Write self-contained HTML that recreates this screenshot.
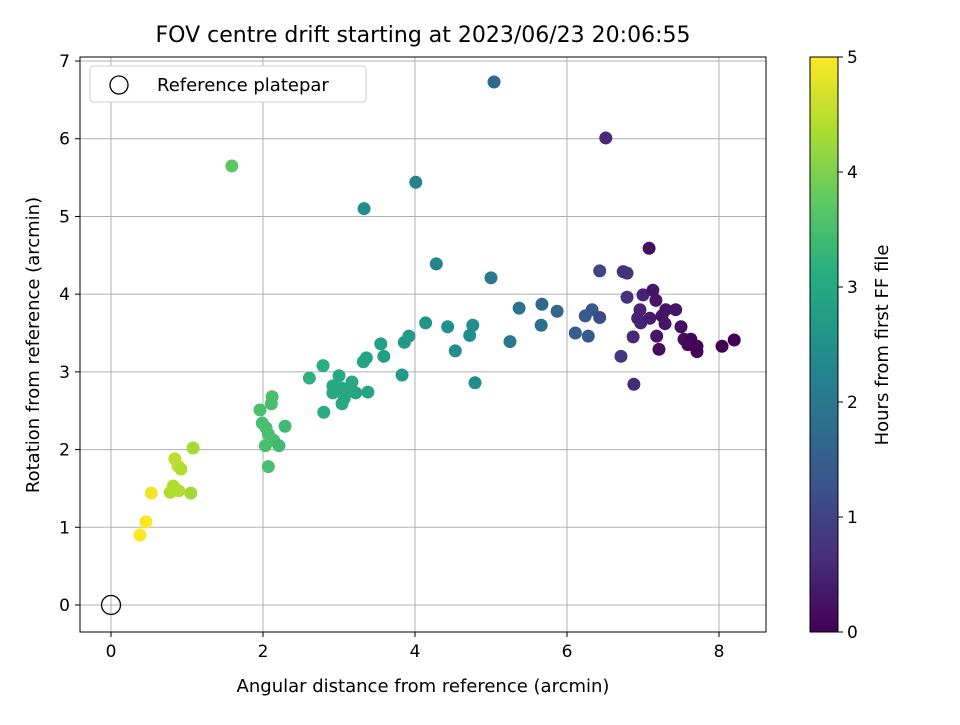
<!DOCTYPE html>
<html><head><meta charset="utf-8"><style>
body{margin:0;background:#fff;font-family:"Liberation Sans","DejaVu Sans",sans-serif}
svg text{font-family:"DejaVu Sans","Liberation Sans",sans-serif}
</style></head><body>
<svg id="chart" width="960" height="720" xmlns="http://www.w3.org/2000/svg">
<defs><linearGradient id="vir" x1="0" y1="1" x2="0" y2="0">
<stop offset="0" stop-color="#440154"/><stop offset="0.125" stop-color="#472d7b"/><stop offset="0.25" stop-color="#3b528b"/><stop offset="0.375" stop-color="#2c728e"/><stop offset="0.5" stop-color="#21918c"/><stop offset="0.625" stop-color="#28ae80"/><stop offset="0.75" stop-color="#5ec962"/><stop offset="0.875" stop-color="#addc30"/><stop offset="1" stop-color="#fde725"/></linearGradient></defs>
<text x="423" y="42" font-size="22" text-anchor="middle">FOV centre drift starting at 2023/06/23 20:06:55</text>
<g id="grid"></g><g id="pts"></g><g id="axes"></g>
<rect x="80" y="57" width="686" height="575" fill="none" stroke="#000" stroke-width="1"/>
<text x="423" y="692" font-size="18" text-anchor="middle">Angular distance from reference (arcmin)</text>
<text transform="translate(39,345) rotate(-90)" font-size="18" text-anchor="middle">Rotation from reference (arcmin)</text>
<g>
<rect x="90" y="66" width="276" height="36" rx="3" fill="#fff" stroke="#ccc"/>
<circle cx="119" cy="85" r="9" fill="none" stroke="#000" stroke-width="1.3"/>
<text x="157" y="91" font-size="18">Reference platepar</text></g>
<rect x="810" y="57" width="28" height="575" fill="url(#vir)" stroke="#000"/>
<g id="cbticks"></g>
<text transform="translate(888,345) rotate(-90)" font-size="18" text-anchor="middle">Hours from first FF file</text>
</svg>
<script>
const xs=[0.53,0.46,0.38,0.84,0.88,0.92,1.08,0.78,0.82,0.89,1.05,1.59,1.96,1.99,2.04,2.11,2.12,2.07,2.14,2.03,2.21,2.29,2.07,2.61,2.79,2.8,2.92,2.92,3.0,3.04,3.07,3.04,3.17,3.22,3.11,3.32,3.36,3.38,3.33,3.55,3.59,3.83,3.86,3.92,4.01,4.14,4.28,4.43,4.53,4.72,4.76,4.79,5.0,5.04,5.25,5.37,5.66,5.67,5.87,6.11,6.24,6.28,6.33,6.43,6.43,6.51,6.71,6.74,6.79,6.79,6.87,6.88,6.96,7.0,6.93,6.97,7.08,7.13,7.09,7.17,7.18,7.21,7.25,7.29,7.3,7.43,7.5,7.54,7.59,7.63,7.71,7.71,8.04,8.2];
const ys=[1.44,1.07,0.9,1.88,1.79,1.75,2.02,1.45,1.53,1.47,1.44,5.65,2.51,2.34,2.28,2.59,2.68,2.2,2.12,2.05,2.05,2.3,1.78,2.92,3.08,2.48,2.82,2.73,2.95,2.79,2.66,2.59,2.87,2.73,2.75,3.13,3.18,2.74,5.1,3.36,3.2,2.96,3.38,3.46,5.44,3.63,4.39,3.58,3.27,3.47,3.6,2.86,4.21,6.73,3.39,3.82,3.6,3.87,3.78,3.5,3.72,3.46,3.8,4.3,3.7,6.01,3.2,4.29,4.27,3.96,3.45,2.84,3.8,3.99,3.69,3.63,4.59,4.05,3.69,3.92,3.46,3.29,3.72,3.62,3.8,3.8,3.58,3.42,3.35,3.42,3.33,3.26,3.33,3.41];
const hrs=[4.9,5,5,4.5,4.5,4.4,4.3,4.4,4.4,4.4,4.3,3.7,3.5,3.5,3.5,3.5,3.5,3.5,3.5,3.5,3.4,3.4,3.5,3.2,3.1,3.1,3,3,3,3,3,3,3,2.9,3,2.9,2.9,2.9,2.4,2.8,2.8,2.7,2.7,2.7,2.2,2.6,2.2,2.5,2.4,2.4,2.4,2.4,2,1.7,2,1.9,1.8,1.7,1.7,1.5,1.4,1.4,1.4,1,1.1,0.6,0.8,0.7,0.7,0.7,0.6,0.6,0.5,0.5,0.5,0.5,0.2,0.3,0.4,0.3,0.3,0.2,0.3,0.3,0.3,0.3,0.2,0.2,0.1,0.1,0.05,0.05,0,0];
const xTicks=[0,2,4,6,8], yTicks=[0,1,2,3,4,5,6,7], cTicks=[0,1,2,3,4,5];
const X=v=>111+v*76, Y=v=>605-v*77.71, C=v=>632-v*115;
const vir=["#440154","#472d7b","#3b528b","#2c728e","#21918c","#28ae80","#5ec962","#addc30","#fde725"];
function hex(h){return [1,3,5].map(i=>parseInt(h.substr(i,2),16));}
function col(h){let t=Math.max(0,Math.min(1,h/5))*8,i=Math.min(7,Math.floor(t)),f=t-i,a=hex(vir[i]),b=hex(vir[i+1]);return `rgb(${a.map((v,k)=>Math.round(v+(b[k]-v)*f)).join(',')})`;}
const NS="http://www.w3.org/2000/svg";
function mk(tag,attrs,parent,txt){const e=document.createElementNS(NS,tag);for(const k in attrs)e.setAttribute(k,attrs[k]);if(txt!==undefined)e.textContent=txt;parent.appendChild(e);return e;}
const g=document.getElementById('grid'),ax=document.getElementById('axes'),p=document.getElementById('pts'),cb=document.getElementById('cbticks');
xTicks.forEach(t=>{
 const l=mk('line',{x1:X(t),x2:X(t),y1:57,y2:632,stroke:'#b0b0b0','stroke-width':1},g);
 
 
 mk('line',{x1:X(t),x2:X(t),y1:632,y2:637,stroke:'#000'},ax);
 const tx=mk('text',{x:X(t),y:657,'font-size':17,'text-anchor':'middle'},ax,t);
 
 
});
yTicks.forEach(t=>{
 const l=mk('line',{x1:80,x2:766,y1:Y(t),y2:Y(t),stroke:'#b0b0b0','stroke-width':1},g);
 
 
 mk('line',{x1:75,x2:80,y1:Y(t),y2:Y(t),stroke:'#000'},ax);
 const tx=mk('text',{x:70,y:Y(t)+6,'font-size':17,'text-anchor':'end'},ax,t);
 
 
});
cTicks.forEach(t=>{
 mk('line',{x1:838,x2:843,y1:C(t),y2:C(t),stroke:'#000'},cb);
 const tx=mk('text',{x:847,y:C(t)+6,'font-size':17},cb,t);
 
 
});
xs.forEach((x,i)=>{
 const c=mk('circle',{cx:X(x),cy:Y(ys[i]),r:6.5,fill:col(hrs[i])},p);
 
 
});
const r=mk('circle',{cx:X(0),cy:Y(0),r:9.5,fill:'none',stroke:'#000','stroke-width':1.3},p);


</script>
</body></html>
